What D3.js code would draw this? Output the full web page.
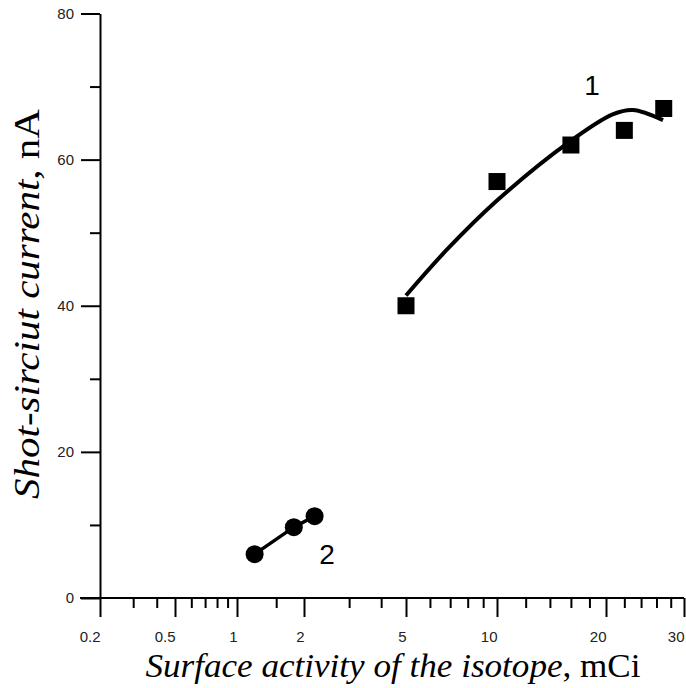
<!DOCTYPE html>
<html>
<head>
<meta charset="utf-8">
<script src="https://cdn.jsdelivr.net/npm/d3@7"></script>
<style>
  body { margin: 0; background: #fff; }
  .tick text { font-family: "Liberation Sans", Arial, sans-serif; font-size: 15px; fill: #222; }
  .axis path, .axis line { stroke: #000; stroke-width: 2; }
  .title { font-family: "Liberation Serif", "Times New Roman", serif; fill: #000; }
</style>
</head>
<body>
<div id="chart"></div>
<script>
var width = 686;
var height = 688;

// axis knots (the printed x axis is not a uniform log scale)
var xKnots = [0.2, 0.5, 1, 2, 5, 10, 20, 30];
var xMinor = [0.3, 0.4, 0.6, 0.7, 0.8, 0.9, 1.5, 3, 4, 6, 7, 8, 9, 12, 14, 16, 18, 22, 24, 26, 28];
var yMajor = [0, 20, 40, 60, 80];
var yMinor = [10, 30, 50, 70];

// curve 1 - squares
var s1x = [5, 10, 16, 22, 27];
var s1y = [40, 57, 62, 64, 67];
// fitted line through curve 1
var fitX = [5, 6.8, 10, 15.7, 20.7, 23, 26.9];
var fitY = [41.4, 47.6, 54.4, 62.3, 66.2, 66.8, 65.4];

// curve 2 - circles
var s2x = [1.2, 1.8, 2.2];
var s2y = [6, 9.7, 11.2];

var svg = d3.select("#chart").append("svg").attr("width", width).attr("height", height);

var xScale = d3.scaleLog().domain(xKnots).range([100, 175, 237, 304, 406, 497, 606, 684]);
var yScale = d3.scaleLinear().domain([0, 80]).range([598, 13.5]);

// y axis
svg.append("g").attr("class", "axis").attr("transform", "translate(100,0)")
    .call(d3.axisLeft(yScale).tickValues(yMajor).tickSize(19).tickSizeOuter(0).tickPadding(7));
svg.append("g").attr("class", "axis").attr("transform", "translate(100,0)")
    .call(d3.axisLeft(yScale).tickValues(yMinor).tickSize(10).tickFormat(""))
    .select(".domain").remove();

// x axis
var xAx = svg.append("g").attr("class", "axis").attr("transform", "translate(0,598)")
    .call(d3.axisBottom(xScale).tickValues(xKnots).tickSize(19).tickSizeOuter(0).tickPadding(14)
        .tickFormat(function (d) { return String(d); }));
xAx.selectAll(".tick text").attr("text-anchor", "end");
xAx.select(".domain").attr("d", "M80,0H" + xScale(30));
svg.append("g").attr("class", "axis").attr("transform", "translate(0,598)")
    .call(d3.axisBottom(xScale).tickValues(xMinor).tickSize(10).tickFormat(""))
    .select(".domain").remove();

// fit line 1
var fitData = fitX.map(function (d, i) { return [d, fitY[i]]; });
svg.append("path").datum(fitData)
    .attr("fill", "none").attr("stroke", "#000").attr("stroke-width", 4)
    .attr("d", d3.line().x(function (d) { return xScale(d[0]); }).y(function (d) { return yScale(d[1]); })
        .curve(d3.curveCatmullRom));

// line 2
var s2 = s2x.map(function (d, i) { return [d, s2y[i]]; });
svg.append("path").datum(s2)
    .attr("fill", "none").attr("stroke", "#000").attr("stroke-width", 3.5)
    .attr("d", d3.line().x(function (d) { return xScale(d[0]); }).y(function (d) { return yScale(d[1]); }));

var sq = 17;
svg.selectAll("rect.pt").data(s1x).enter().append("rect")
    .attr("class", "pt")
    .attr("x", function (d) { return xScale(d) - sq / 2; })
    .attr("y", function (d, i) { return yScale(s1y[i]) - sq / 2; })
    .attr("width", sq).attr("height", sq).attr("fill", "#000");

svg.selectAll("circle.pt").data(s2).enter().append("circle")
    .attr("class", "pt")
    .attr("cx", function (d) { return xScale(d[0]); })
    .attr("cy", function (d) { return yScale(d[1]); })
    .attr("r", 9).attr("fill", "#000");

// curve labels
svg.append("text").attr("x", 592).attr("y", 95).attr("text-anchor", "middle")
    .style("font-family", "Liberation Sans, Arial, sans-serif").style("font-size", "28px").text("1");
svg.append("text").attr("x", 327).attr("y", 564).attr("text-anchor", "middle")
    .style("font-family", "Liberation Sans, Arial, sans-serif").style("font-size", "28px").text("2");

// axis titles
var xt = svg.append("text").attr("class", "title").attr("x", 393).attr("y", 677)
    .attr("text-anchor", "middle").style("font-size", "33px")
    .attr("textLength", 495).attr("lengthAdjust", "spacingAndGlyphs");
xt.append("tspan").style("font-style", "italic").text("Surface activity of the isotope");
xt.append("tspan").text(", mCi");

var yt = svg.append("text").attr("class", "title").attr("text-anchor", "middle")
    .style("font-size", "36px")
    .attr("textLength", 390).attr("lengthAdjust", "spacingAndGlyphs")
    .attr("transform", "translate(39,304)rotate(-90)");
yt.append("tspan").style("font-style", "italic").text("Shot-sirciut current");
yt.append("tspan").text(", nA");
</script>
</body>
</html>
